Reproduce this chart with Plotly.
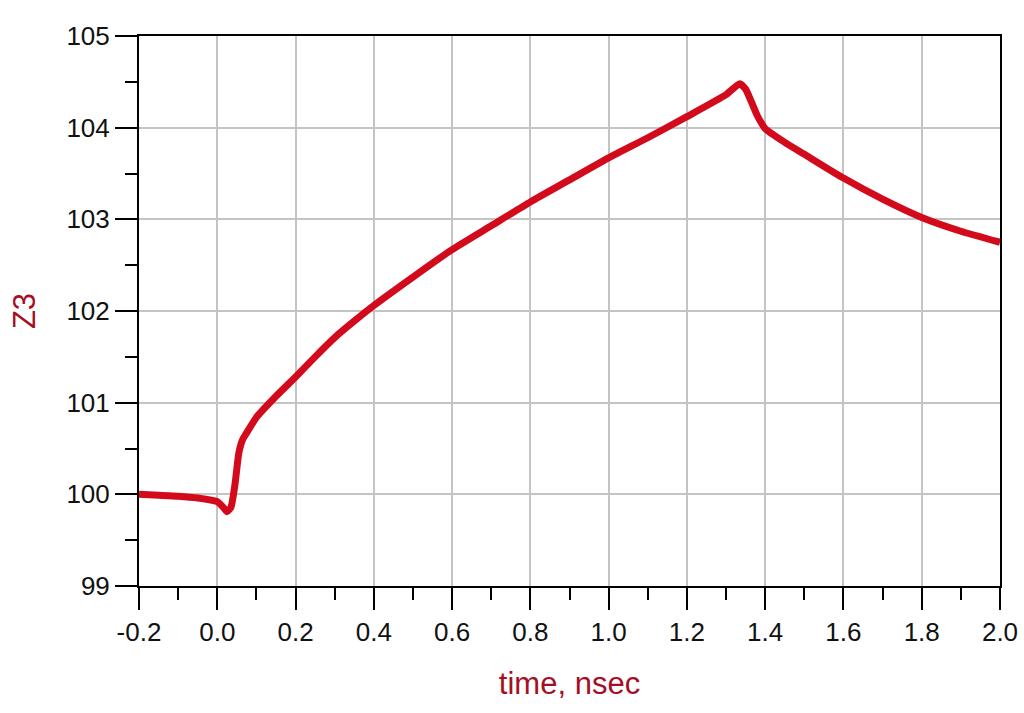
import plotly.graph_objects as go

# time axis (nsec) and impedance Z3
time_ns = [-0.2, -0.15, -0.1, -0.05, 0.0, 0.015, 0.025, 0.035, 0.045, 0.055,
           0.065, 0.075, 0.1, 0.15, 0.2, 0.25, 0.3, 0.35, 0.4, 0.5, 0.6, 0.7,
           0.8, 0.9, 1.0, 1.1, 1.2, 1.3, 1.335, 1.35, 1.365, 1.38, 1.4, 1.45,
           1.5, 1.6, 1.7, 1.8, 1.9, 2.0]
z3 = [100.0, 99.99, 99.98, 99.96, 99.92, 99.86, 99.81, 99.86, 100.1, 100.45,
      100.6, 100.67, 100.84, 101.07, 101.28, 101.5, 101.71, 101.89, 102.06,
      102.37, 102.67, 102.93, 103.19, 103.43, 103.67, 103.89, 104.12, 104.36,
      104.48, 104.42, 104.28, 104.13, 103.99, 103.84, 103.71, 103.45, 103.22,
      103.02, 102.87, 102.75]

x_ticks = [-0.2, 0.0, 0.2, 0.4, 0.6, 0.8, 1.0, 1.2, 1.4, 1.6, 1.8, 2.0]
x_labels = ['-0.2', '0.0', '0.2', '0.4', '0.6', '0.8', '1.0', '1.2', '1.4',
            '1.6', '1.8', '2.0']
y_ticks = [99, 100, 101, 102, 103, 104, 105]

title_red = '#a50f25'
line_red = '#d20a1c'
font_name = 'Liberation Sans, Arial'

fig = go.Figure()
fig.add_trace(go.Scatter(x=time_ns, y=z3, mode='lines',
                         line=dict(color=line_red, width=7, shape='spline',
                                   smoothing=0.5),
                         showlegend=False))

axis_common = dict(showline=True, linecolor='black', linewidth=2,
                   mirror=True, ticks='outside', ticklen=22, tickwidth=2,
                   tickcolor='black', showgrid=True, gridcolor='#c4c4c4',
                   gridwidth=1.5, zeroline=False, ticklabeloverflow='allow',
                   tickfont=dict(family=font_name, size=26, color='#111111'))

fig.update_xaxes(range=[-0.2, 2.0], tickvals=x_ticks, ticktext=x_labels,
                 minor=dict(dtick=0.1, tick0=-0.2, ticks='outside',
                            ticklen=12, tickwidth=2, tickcolor='black',
                            showgrid=False),
                 title=dict(text='time, nsec', standoff=26,
                            font=dict(family=font_name, size=31,
                                      color=title_red)),
                 **axis_common)
fig.update_yaxes(range=[99, 105], tickvals=y_ticks,
                 minor=dict(dtick=0.5, tick0=99, ticks='outside',
                            ticklen=12, tickwidth=2, tickcolor='black',
                            showgrid=False),
                 title=dict(text='Z3', standoff=22,
                            font=dict(family=font_name, size=31,
                                      color=title_red)),
                 **axis_common)

fig.update_layout(width=1024, height=713,
                  margin=dict(l=139, r=24, t=36, b=127, autoexpand=False),
                  plot_bgcolor='white', paper_bgcolor='white')

# drop the default page margin so the figure fills the window exactly
fig.write_html("out.html", config={'displayModeBar': False},
               post_script="document.body.style.margin='0px';"
                           "document.body.style.overflow='hidden';")
